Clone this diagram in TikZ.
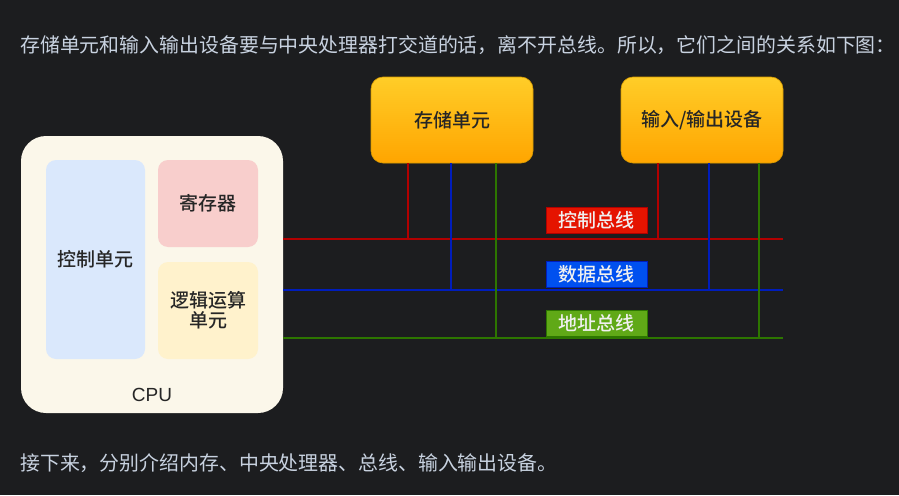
\documentclass[tikz,border=0pt]{standalone}
\usepackage{fontspec}
\newfontfamily\cjk{Noto Sans CJK SC}
\newfontfamily\cjkm{Noto Sans CJK SC}[UprightFont={* Medium}]
\newfontfamily\latinsans{Liberation Sans}
\definecolor{bg}{HTML}{1C1D1F}
\definecolor{txt}{HTML}{C8D2E0}
\definecolor{cpufill}{HTML}{FBF7EA}
\definecolor{ctrlfill}{HTML}{DAE8FC}
\definecolor{regfill}{HTML}{F8CECC}
\definecolor{alufill}{HTML}{FFF2CC}
\definecolor{orangetop}{HTML}{FFCD28}
\definecolor{orangebot}{HTML}{FFA500}
\definecolor{orangeline}{HTML}{D79B00}
\definecolor{busred}{HTML}{B20000}
\definecolor{busblue}{HTML}{001DBC}
\definecolor{busgreen}{HTML}{2D7600}
\definecolor{lblred}{HTML}{E51400}
\definecolor{lblblue}{HTML}{0050EF}
\definecolor{lblgreen}{HTML}{60A917}
\begin{document}
\begin{tikzpicture}[x=1pt,y=-1pt,
  every node/.style={font=\cjkm\fontsize{19}{22}\selectfont},
  para/.style={anchor=west,inner sep=0pt,text=txt,font=\cjk\fontsize{19.9}{22}\selectfont},
  cpubox/.style={fill=cpufill,rounded corners=25pt,inner sep=0pt,minimum width=262pt,minimum height=277pt},
  unitbox/.style={rounded corners=10pt,inner sep=0pt,minimum width=100pt,text=black!85,align=center},
  devbox/.style={draw=orangeline,line width=0.6pt,top color=orangetop,bottom color=orangebot,rounded corners=12pt,minimum width=162pt,minimum height=86pt,inner sep=0pt,text=black!85},
  buslabel/.style={inner sep=0pt,minimum width=101pt,minimum height=26pt,text=white!94!black,line width=0.8pt},
  redbus/.style={draw=busred,line width=1.8pt},
  bluebus/.style={draw=busblue,line width=1.8pt},
  greenbus/.style={draw=busgreen,line width=1.8pt},
  redv/.style={draw=busred,line width=1.5pt},
  bluev/.style={draw=busblue,line width=1.5pt},
  greenv/.style={draw=busgreen,line width=1.5pt}
]
\useasboundingbox[fill=bg] (0,0) rectangle (899,495);

\node[para] (top) at (20,45) {存储单元和输入输出设备要与中央处理器打交道的话，离不开总线。所以，它们之间的关系如下图：};
\node[para] (bottom) at (20,463) {接下来，分别介绍内存、中央处理器、总线、输入输出设备。};

% CPU
\node[cpubox] (cpu) at (152,274.5) {};
\node[unitbox,fill=ctrlfill,minimum width=99pt,minimum height=199pt] (ctrl) at (95.5,259.5) {控制单元};
\node[unitbox,fill=regfill,minimum height=87pt] (reg) at (208,203.5) {寄存器};
\node[unitbox,fill=alufill,minimum height=97pt] (alu) at (208,310.5) {逻辑运算\\[-2pt]单元};
\node[text=black!85,font=\latinsans\fontsize{19}{22}\selectfont] (cpulbl) at (152,395) {CPU};

% devices
\node[devbox] (mem) at (452,120) {存储单元};
\node[devbox] (io) at (702,120) {输入/输出设备};

% bus end coordinates
\coordinate (cbus) at (783,239);
\coordinate (dbus) at (783,290);
\coordinate (abus) at (783,338);

% horizontal buses
\draw[redbus] (cpu.east |- cbus) -- (cbus);
\draw[bluebus] (cpu.east |- dbus) -- (dbus);
\draw[greenbus] (cpu.east |- abus) -- (abus);

% verticals from storage
\draw[redv] ([xshift=-44pt]mem.south) -- ([xshift=-44pt]mem.south |- cbus);
\draw[bluev] ([xshift=-1pt]mem.south) -- ([xshift=-1pt]mem.south |- dbus);
\draw[greenv] ([xshift=44pt]mem.south) -- ([xshift=44pt]mem.south |- abus);
% verticals from io
\draw[redv] ([xshift=-44pt]io.south) -- ([xshift=-44pt]io.south |- cbus);
\draw[bluev] ([xshift=7pt]io.south) -- ([xshift=7pt]io.south |- dbus);
\draw[greenv] ([xshift=57pt]io.south) -- ([xshift=57pt]io.south |- abus);

% bus labels
\node[buslabel,fill=lblred,draw=busred] (lc) at (596.5,220) {控制总线};
\node[buslabel,fill=lblblue,draw=busblue] (ld) at (596.5,274.5) {数据总线};
\node[buslabel,fill=lblgreen,draw=busgreen] (la) at (596.5,323) {地址总线};
\end{tikzpicture}
\end{document}
